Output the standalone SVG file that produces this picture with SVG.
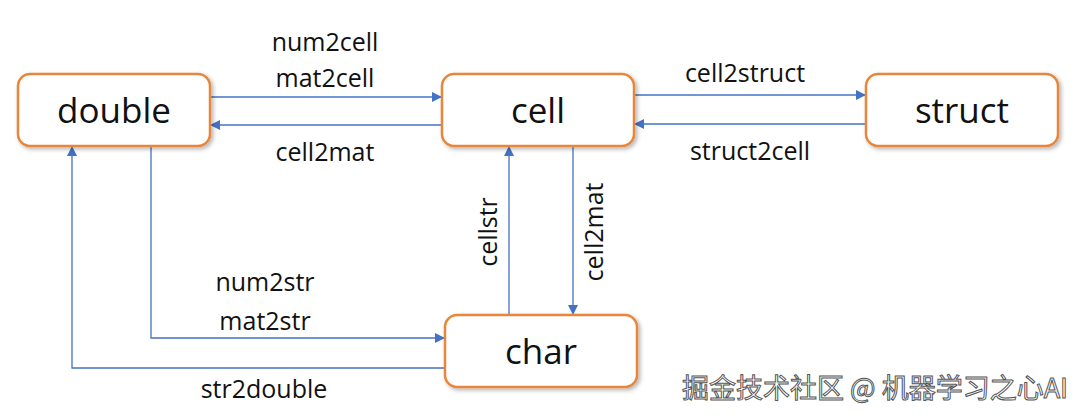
<svg xmlns="http://www.w3.org/2000/svg" width="1080" height="419" viewBox="0 0 1080 419">
<style>
.box{fill:#fff;stroke:#E8873A;stroke-width:2.5}
.nt{font-family:"Open Sans","Liberation Sans",sans-serif;font-size:35px;fill:#111;text-anchor:middle}
.lb{font-family:"Open Sans","Liberation Sans",sans-serif;font-size:25px;fill:#111;text-anchor:middle}
.c{fill:none;stroke:#4472C4;stroke-width:1.3}
</style>
<defs>
<marker id="a" viewBox="0 0 10 10" refX="10" refY="5" markerWidth="10" markerHeight="10" markerUnits="userSpaceOnUse" orient="auto"><path d="M0,0L10,5L0,10z" fill="#4472C4"/></marker>
<filter id="s"><feDropShadow dx="2" dy="2" stdDeviation="2" flood-opacity="0.3"/></filter>
</defs>
<rect width="1080" height="419" fill="#fff"/>
<g id="connectors">
<path class="c" d="M210,97H442" marker-end="url(#a)"/>
<path class="c" d="M442,125H210" marker-end="url(#a)"/>
<path class="c" d="M634,95H866" marker-end="url(#a)"/>
<path class="c" d="M866,124H634" marker-end="url(#a)"/>
<path class="c" d="M509,315V146" marker-end="url(#a)"/>
<path class="c" d="M573,146V315" marker-end="url(#a)"/>
<path class="c" d="M151,146V338H445" marker-end="url(#a)"/>
<path class="c" d="M445,368H72V146" marker-end="url(#a)"/>
<text class="lb" x="325" y="51">num2cell</text>
<text class="lb" x="325" y="87">mat2cell</text>
<text class="lb" x="325" y="161">cell2mat</text>
<text class="lb" x="745" y="82">cell2struct</text>
<text class="lb" x="750" y="160">struct2cell</text>
<text class="lb" transform="translate(497,232) rotate(-90)">cellstr</text>
<text class="lb" transform="translate(603,232) rotate(-90)">cell2mat</text>
<text class="lb" x="265" y="291">num2str</text>
<text class="lb" x="265" y="330">mat2str</text>
<text class="lb" x="264" y="398">str2double</text>
</g>
<g id="double"><rect class="box" x="18" y="74" width="192" height="72" rx="12" filter="url(#s)"/><text class="nt" x="114" y="123">double</text></g>
<g id="cell"><rect class="box" x="442" y="74" width="192" height="72" rx="12" filter="url(#s)"/><text class="nt" x="538" y="123">cell</text></g>
<g id="struct"><rect class="box" x="866" y="74" width="192" height="72" rx="12" filter="url(#s)"/><text class="nt" x="962" y="123">struct</text></g>
<g id="char"><rect class="box" x="445" y="315" width="192" height="72" rx="12" filter="url(#s)"/><text class="nt" x="541" y="364">char</text></g>
<text x="1068" y="398" font-family="'Noto Sans CJK SC',sans-serif" font-size="27" fill="#fff" stroke="#555" stroke-width="1" text-anchor="end">掘金技术社区 @ 机器学习之心AI</text>
</svg>
